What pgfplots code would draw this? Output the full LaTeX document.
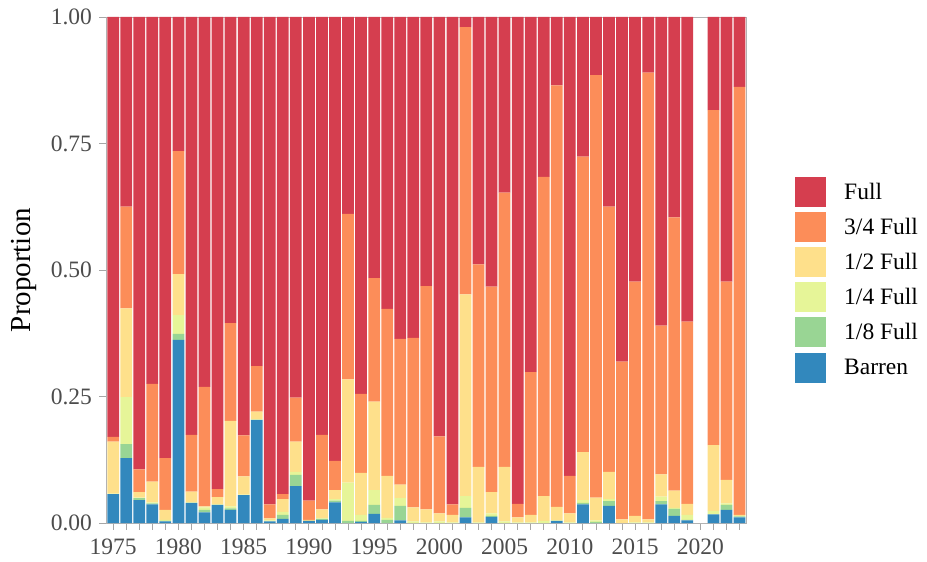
\documentclass[border=0pt]{standalone}
\usepackage{fontspec}
\setmainfont{Liberation Serif}
\usepackage{pgfplots}
\usepackage{pgfplotstable}
\pgfplotsset{compat=1.18}
\definecolor{cFull}{HTML}{D53E4F}
\definecolor{cTQ}{HTML}{FC8D59}
\definecolor{cHalf}{HTML}{FEE08B}
\definecolor{cQuar}{HTML}{E6F598}
\definecolor{cEig}{HTML}{99D594}
\definecolor{cBar}{HTML}{3288BD}
\pgfplotstableread{
year B E Q H T F
1975 .057 0 .001 .103 .009 .830
1976 .128 .028 .093 .175 .201 .375
1977 .045 .004 .001 .011 .045 .894
1978 .037 .002 .002 .041 .193 .725
1979 .003 .001 .002 .020 .102 .872
1980 .362 .012 .037 .081 .243 .265
1981 .040 0 .001 .021 .112 .826
1982 .021 .005 .005 .002 .236 .731
1983 .036 0 .001 .014 .016 .933
1984 .026 .003 .004 .169 .193 .605
1985 .055 0 .001 .036 .081 .827
1986 .204 0 .001 .015 .090 .690
1987 .003 0 .002 .004 .028 .963
1988 .008 .008 .006 .025 .010 .943
1989 .073 .022 .006 .060 .087 .752
1990 .004 0 0 .002 .038 .956
1991 .006 .002 .001 .018 .147 .826
1992 .041 .003 .003 .018 .058 .877
1993 0 .004 .076 .204 .327 .389
1994 .002 .002 .012 .083 .156 .745
1995 .018 .018 .029 .175 .244 .516
1996 0 .006 .004 .083 .330 .577
1997 .005 .029 .015 .027 .288 .636
1998 0 0 .003 .028 .335 .634
1999 0 0 .001 .026 .441 .532
2000 0 0 .003 .016 .152 .829
2001 0 0 .001 .015 .021 .963
2002 .011 .019 .023 .399 .528 .020
2003 0 0 .001 .110 .400 .489
2004 .012 .002 .005 .042 .406 .533
2005 0 0 .003 .108 .542 .347
2006 0 0 .001 .010 .027 .962
2007 0 0 .001 .015 .282 .702
2008 0 0 .004 .049 .631 .316
2009 .004 0 .001 .027 .833 .135
2010 0 0 .001 .018 .074 .907
2011 .037 .003 .005 .095 .584 .276
2012 0 .002 .003 .045 .835 .115
2013 .034 .009 .004 .054 .524 .375
2014 0 0 0 .007 .312 .681
2015 0 0 .001 .013 .463 .523
2016 0 0 .001 .006 .883 .110
2017 .037 .006 .009 .044 .294 .610
2018 .014 .014 .002 .034 .540 .396
2019 .005 .001 .010 .022 .360 .602
2021 .017 0 .007 .130 .662 .184
2022 .026 .010 .003 .046 .392 .523
2023 .011 .002 .001 .002 .846 .138
}\data
\begin{document}
\begin{tikzpicture}
\path[use as bounding box] (-106bp,-39bp) rectangle (821bp,523bp);
\begin{axis}[at={(0,0)}, anchor=south west, scale only axis,
  width=640bp, height=506bp,
  ybar stacked, bar width=0.9,
  xmin=1974.45, xmax=2023.5, ymin=0, ymax=1,
  axis line style={black!30, line width=0.9bp},
  tick align=outside, xtick pos=left, ytick pos=left,
  tick style={black!35, line width=0.8bp},
  major tick length=7bp, minor tick length=7bp,
  xtick={1975,1980,...,2020},
  xticklabels={1975,1980,1985,1990,1995,2000,2005,2010,2015,2020},
  minor xtick={1975,...,2023},
  ytick={0,0.25,0.5,0.75,1},
  yticklabels={0.00,0.25,0.50,0.75,1.00},
  ticklabel style={font=\fontsize{23.5bp}{26bp}\selectfont, text=black!70},
  xticklabel style={yshift=-5bp},
  yticklabel style={xshift=-3.5bp},
  ylabel={Proportion},
  ylabel style={font=\fontsize{29bp}{32bp}\selectfont, at={(axis description cs:-0.128,0.5)}, anchor=center},
  reverse legend,
  legend cell align=left,
  legend image code/.code={\fill[#1] (0bp,-15bp) rectangle (31bp,15bp);},
  legend style={at={(axis description cs:1.0766,0.481)}, anchor=west, draw=none, fill=none,
    inner sep=0pt, row sep=5.2bp,
    nodes={inner sep=0pt, font=\fontsize{23.5bp}{26bp}\selectfont},
    /tikz/every odd column/.append style={column sep=18bp}},
]
\addplot[fill=cBar, draw=none] table[x=year, y=B] {\data};
\addplot[fill=cEig, draw=none] table[x=year, y=E] {\data};
\addplot[fill=cQuar, draw=none] table[x=year, y=Q] {\data};
\addplot[fill=cHalf, draw=none] table[x=year, y=H] {\data};
\addplot[fill=cTQ, draw=none] table[x=year, y=T] {\data};
\addplot[fill=cFull, draw=none] table[x=year, y=F] {\data};
\legend{Barren,1/8 Full,1/4 Full,1/2 Full,3/4 Full,Full}
\end{axis}
\end{tikzpicture}
\end{document}
